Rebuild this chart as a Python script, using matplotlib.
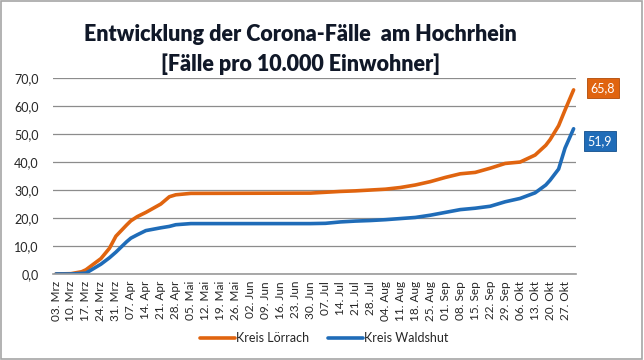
import numpy as np
import pandas as pd
import matplotlib
matplotlib.use("Agg")
import matplotlib.pyplot as plt
from matplotlib.patches import Rectangle

# Daten (Fälle pro 10.000 Einwohner)
dates = pd.to_datetime([
    "2020-03-03", "2020-03-10", "2020-03-15", "2020-03-17", "2020-03-24",
    "2020-03-28", "2020-03-31", "2020-04-05", "2020-04-07", "2020-04-10",
    "2020-04-14", "2020-04-21", "2020-04-25", "2020-04-28", "2020-05-05",
    "2020-06-30", "2020-07-07", "2020-07-14", "2020-07-21", "2020-07-28",
    "2020-08-04", "2020-08-11", "2020-08-18", "2020-08-25", "2020-09-01",
    "2020-09-08", "2020-09-15", "2020-09-22", "2020-09-29", "2020-10-06",
    "2020-10-13", "2020-10-18", "2020-10-20", "2020-10-24", "2020-10-27",
    "2020-10-31",
])
loerrach = [
    0.0, 0.1, 0.8, 1.5, 5.5,
    9.2, 13.5, 17.5, 19.0, 20.5,
    22.0, 25.0, 27.6, 28.3, 28.8,
    28.9, 29.2, 29.5, 29.7, 30.0,
    30.3, 30.9, 31.8, 33.0, 34.5,
    35.8, 36.3, 37.8, 39.5, 40.0,
    42.5, 46.0, 48.0, 53.0, 58.6,
    65.8,
]
waldshut = [
    0.0, 0.0, 0.2, 0.3, 3.5,
    5.8, 7.8, 11.5, 12.8, 14.0,
    15.5, 16.5, 17.0, 17.6, 18.0,
    18.0, 18.1, 18.6, 18.9, 19.1,
    19.4, 19.8, 20.2, 21.0, 22.0,
    23.0, 23.5, 24.2, 25.8, 27.0,
    29.0, 31.8, 33.5, 37.5, 45.0,
    51.9,
]

tick_dates = pd.date_range("2020-03-03", "2020-10-27", freq="7D")
tick_labels = [
    "03. Mrz", "10. Mrz", "17. Mrz", "24. Mrz", "31. Mrz", "07. Apr", "14. Apr",
    "21. Apr", "28. Apr", "05. Mai", "12. Mai", "19. Mai", "26. Mai", "02. Jun",
    "09. Jun", "16. Jun", "23. Jun", "30. Jun", "07. Jul", "14. Jul", "21. Jul",
    "28. Jul", "04. Aug", "11. Aug", "18. Aug", "25. Aug", "01. Sep", "08. Sep",
    "15. Sep", "22. Sep", "29. Sep", "06. Okt", "13. Okt", "20. Okt", "27. Okt",
]

orange = "#E0640F"
blue = "#1F6CB8"
text_col = "#262626"

plt.rcParams["font.family"] = ["Lato", "DejaVu Sans"]

fig = plt.figure(figsize=(6.44, 3.6), dpi=100)
ax = fig.add_axes([0.082, 0.239, 0.812, 0.544])

ax.plot(dates, loerrach, color=orange, lw=2.6, label="Kreis Lörrach", solid_capstyle="round")
ax.plot(dates, waldshut, color=blue, lw=2.6, label="Kreis Waldshut", solid_capstyle="round")

ax.set_ylim(0, 70)
ax.set_yticks(np.arange(0, 71, 10))
ax.set_yticklabels([f"{v:.1f}".replace(".", ",") for v in np.arange(0, 71, 10)])
ax.set_xlim(pd.Timestamp("2020-03-01 12:00"), pd.Timestamp("2020-11-01"))
ax.set_xticks(tick_dates)
ax.set_xticklabels(tick_labels, rotation=90, fontsize=8.5, color=text_col)
ax.tick_params(axis="x", length=0, pad=5)
ax.tick_params(axis="y", length=0, labelsize=9, labelcolor=text_col, pad=10)

ax.grid(axis="y", color="#8c8c8c", lw=0.9)
ax.set_axisbelow(True)
for s in ["top", "right", "left"]:
    ax.spines[s].set_visible(False)
ax.spines["bottom"].set_color("#9a9a9a")
ax.spines["bottom"].set_linewidth(1.2)

# Datenbeschriftung am Ende
ax.annotate(f"{loerrach[-1]:.1f}".replace(".", ","), xy=(dates[-1], loerrach[-1]),
            xytext=(29, 2), textcoords="offset pixels", ha="center", va="center",
            fontsize=9, color="white", annotation_clip=False,
            bbox=dict(boxstyle="square,pad=0.3", fc=orange, ec="#b04a05", lw=0.6))
ax.annotate(f"{waldshut[-1]:.1f}".replace(".", ","), xy=(dates[-1], waldshut[-1]),
            xytext=(26, -12), textcoords="offset pixels", ha="center", va="center",
            fontsize=9, color="white", annotation_clip=False,
            bbox=dict(boxstyle="square,pad=0.3", fc=blue, ec="#124f8c", lw=0.6))

fig.text(0.467, 0.903, "Entwicklung der Corona-Fälle  am Hochrhein",
         ha="center", va="center", fontsize=15.5, fontweight="heavy", color="#101828")
fig.text(0.467, 0.822, "[Fälle pro 10.000 Einwohner]",
         ha="center", va="center", fontsize=15.5, fontweight="heavy", color="#101828")

fig.legend(loc="center", bbox_to_anchor=(0.503, 0.061), ncol=2, frameon=False,
           fontsize=9, handlelength=2.8, handletextpad=0.1, columnspacing=1.5,
           labelcolor=text_col)

fig.patches.append(Rectangle((0.002, 0.003), 0.995, 0.993, transform=fig.transFigure,
                             fill=False, ec="#a6a6a6", lw=1.2))

fig.savefig("out.png", dpi=100)
